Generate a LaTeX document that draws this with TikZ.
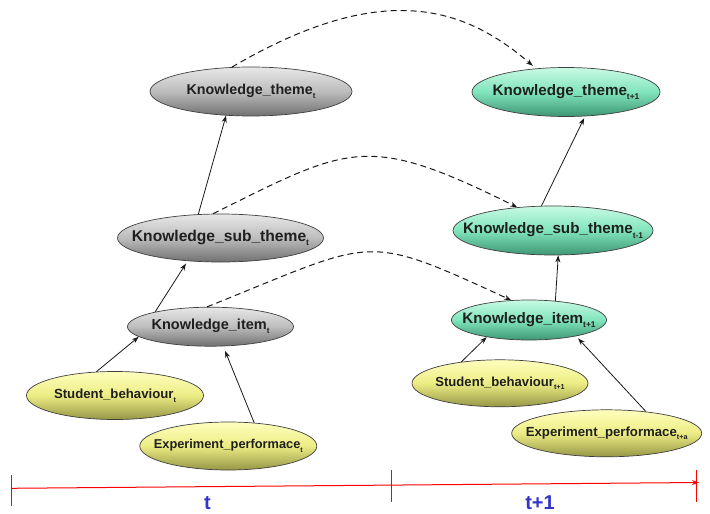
\documentclass[tikz,border=0pt]{standalone}
\usepackage{fontspec}
\setmainfont{Liberation Sans}
\usetikzlibrary{shapes.geometric,arrows.meta}

% fill colours of the three kinds of variables
\definecolor{gyT}{RGB}{232,232,232}
\definecolor{gyM}{RGB}{188,188,188}
\definecolor{gyB}{RGB}{112,112,112}
\definecolor{gnT}{RGB}{200,250,228}
\definecolor{gnM}{RGB}{128,228,188}
\definecolor{gnB}{RGB}{62,150,116}
\definecolor{ylT}{RGB}{255,255,190}
\definecolor{ylM}{RGB}{236,236,132}
\definecolor{ylB}{RGB}{150,150,70}
\definecolor{axisblue}{RGB}{52,52,200}

\newcommand\nodefs[1]{\fontsize{#1}{#1}\selectfont}
% small index set below the baseline
\newcommand\idx[1]{\raisebox{-0.28em}{\fontsize{0.55em}{0.55em}\selectfont #1}}

\begin{document}
\begin{tikzpicture}[x=1pt,y=-1pt,
  bn/.style={ellipse, draw=black!75, line width=0.7pt, inner sep=0pt,
             text=black!88, font=\bfseries},
  grey/.style={bn, top color=gyT, bottom color=gyB, middle color=gyM},
  green/.style={bn, top color=gnT, bottom color=gnB, middle color=gnM},
  yellow/.style={bn, top color=ylT, bottom color=ylB, middle color=ylM},
  arr/.style={-{Stealth[length=7pt,width=5pt]}, line width=0.8pt, black!90},
  dsh/.style={arr, line width=1pt, dash pattern=on 6pt off 4pt},
  tline/.style={red, line width=1pt},
  tlabel/.style={inner sep=0pt, text=axisblue, font=\bfseries\nodefs{20}}
]
\path[fill=white,use as bounding box] (0,0) rectangle (710,514);

% time slice t
\node[grey, minimum width=202pt, minimum height=49pt] (kt) at (251,91.5)
  {\makebox[0pt]{\nodefs{14.3}Knowledge\_theme\idx{t}}};
\node[grey, minimum width=206pt, minimum height=48pt] (kst) at (220.5,238)
  {\makebox[0pt]{\nodefs{15.6}Knowledge\_sub\_theme\idx{t}}};
\node[grey, minimum width=166pt, minimum height=39pt] (ki) at (210.5,326.7)
  {\makebox[0pt]{\nodefs{14.5}Knowledge\_item\idx{t}}};
\node[yellow, minimum width=177pt, minimum height=48pt] (sb) at (115,395.5)
  {\makebox[0pt]{\nodefs{13.2}Student\_behaviour\idx{t}}};
\node[yellow, minimum width=177pt, minimum height=48pt] (ep) at (228.3,446)
  {\makebox[0pt]{\nodefs{12.8}Experiment\_performace\idx{t}}};

% time slice t+1
\node[green, minimum width=188pt, minimum height=49pt] (kt1) at (566,92)
  {\makebox[0pt]{\nodefs{15.2}Knowledge\_theme\idx{t+1}}};
\node[green, minimum width=200pt, minimum height=49pt] (kst1) at (553,230.5)
  {\makebox[0pt]{\nodefs{15.2}Knowledge\_sub\_theme\idx{t-1}}};
\node[green, minimum width=155pt, minimum height=40pt] (ki1) at (529,320)
  {\makebox[0pt]{\nodefs{15.2}Knowledge\_item\idx{t+1}}};
\node[yellow, minimum width=176pt, minimum height=47pt] (sb1) at (500,383.3)
  {\makebox[0pt]{\nodefs{13.1}Student\_behaviour\idx{t+1}}};
\node[yellow, minimum width=190pt, minimum height=47pt] (ep1) at (606.7,433.3)
  {\makebox[0pt]{\nodefs{13.2}Experiment\_performace\idx{t+a}}};

% dependencies within a slice
\draw[arr] (sb.128) -- (ki.188);
\draw[arr, shorten >=5pt] (ep.42) -- (ki.-57);
\draw[arr, shorten >=3pt] (ki.165) -- (kst.215);
\draw[arr] (kst.133) -- (kt.224);
\draw[arr] (sb1.151) -- (ki1.202);
\draw[arr, shorten >=3pt] (ep1.29) -- (ki1.-19);
\draw[arr] (ki1.36) -- (kst1.-78);
\draw[arr, shorten >=2pt] (kst1.115) -- (kt1.-52);

% temporal links between slices
\draw[dsh, shorten >=4pt] (kt.128) .. controls +(150,-88) and +(-72,-62) .. (kt1.142);
\draw[dsh] (kst.107) .. controls +(137,-68) and +(-151,-75) .. (kst1.147);
\draw[dsh] (ki.100) .. controls +(170,-68) and +(-150,-69) .. (ki1.132);

% time axis
\coordinate (ax0) at (11,488.3);
\coordinate (ax1) at (699,482.5);
\draw[tline, -{Stealth[length=7pt,width=5pt]}] (ax0) -- (ax1);
\draw[tline] (11,475) -- (11,506);
\draw[tline] (391,470) -- (391,501.5);
\draw[tline] (696,470) -- (696,501.5);
\node[tlabel] (lt) at (207.5,503) {t};
\node[tlabel] (lt1) at (540,503) {t+1};
\end{tikzpicture}
\end{document}
